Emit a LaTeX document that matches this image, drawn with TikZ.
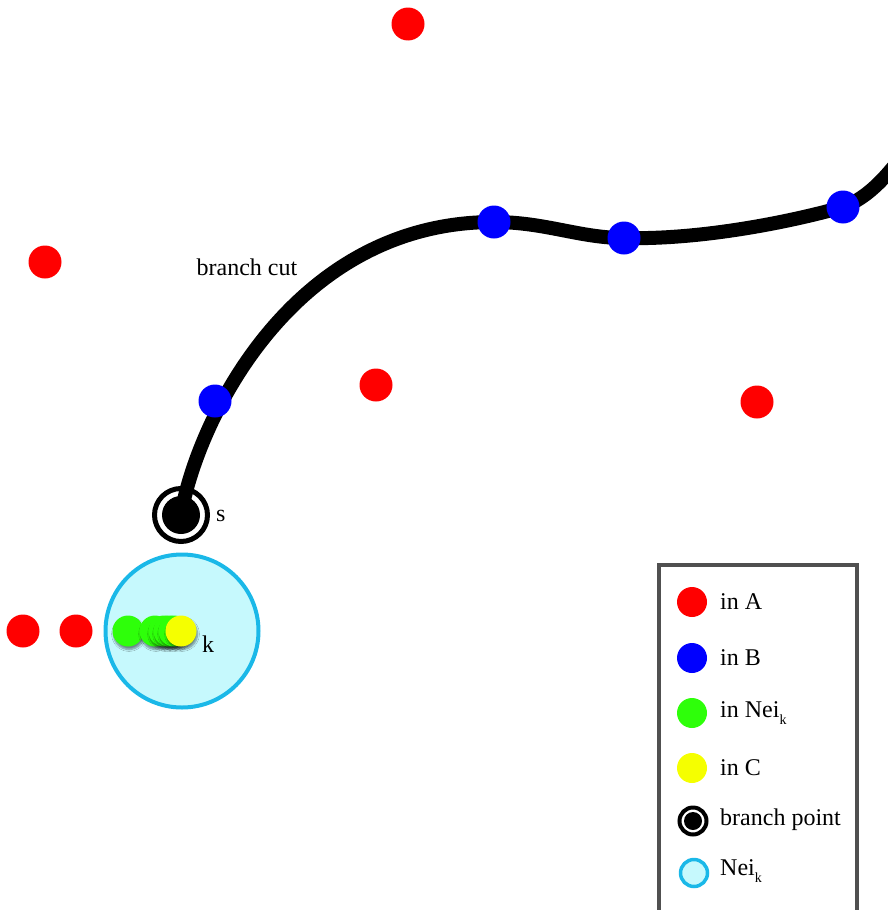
\documentclass[tikz,border=0pt]{standalone}
\usepackage{fontspec}
\setmainfont{Liberation Serif}
\usetikzlibrary{shadows.blur}
\definecolor{ptred}{HTML}{FF0000}
\definecolor{ptblue}{HTML}{0000FF}
\definecolor{ptgreen}{HTML}{2EFF0A}
\definecolor{ptyellow}{HTML}{F5FF00}
\definecolor{neiline}{HTML}{1AB8E8}
\definecolor{neifill}{HTML}{C6F9FD}
\definecolor{legframe}{HTML}{505050}
\tikzset{
  dot/.style={circle, inner sep=0pt, minimum size=33pt},
  adot/.style={dot, fill=ptred},
  bdot/.style={dot, fill=ptblue},
  gdot/.style={dot, minimum size=31pt, fill=ptgreen, blur shadow={shadow xshift=1pt, shadow yshift=-3pt, shadow blur steps=6, shadow opacity=45}},
  ydot/.style={dot, minimum size=31pt, fill=ptyellow, blur shadow={shadow xshift=1pt, shadow yshift=-3pt, shadow blur steps=6, shadow opacity=45}},
  lab/.style={font=\fontsize{24}{28}\selectfont, inner sep=0pt},
  ldot/.style={circle, inner sep=0pt, minimum size=30pt},
}
\newcommand{\subk}{\raisebox{-7pt}{\fontsize{14}{14}\selectfont k}}
\begin{document}
\begin{tikzpicture}[x=1pt,y=-1pt]
\useasboundingbox (0,0) rectangle (888,910);
% neighbourhood
\node[circle, draw=neiline, line width=4pt, fill=neifill, minimum size=153pt, inner sep=0pt] (nei) at (182,631) {};
% branch point ring
\node[circle, draw=black, line width=5pt, fill=white, minimum size=53pt, inner sep=0pt] (sring) at (181,515) {};
% branch cut
\coordinate (send) at (895,165);
\draw[line width=14pt] (sring.center) .. controls (196,425) and (290,222) .. (494,222)
  .. controls (545,222) and (580,238) .. (624,238)
  .. controls (700,240) and (790,222) .. (843,207)
  .. controls (862,200) and (878,186) .. (send);
% branch point disk
\node[circle, fill=black, minimum size=38pt, inner sep=0pt] (s) at (181,515) {};
\node[lab, anchor=west] (slab) at (216,516) {s};
\node[lab] (bc) at (247,267) {branch cut};
% A points
\node[adot] (a1) at (408,24) {};
\node[adot] (a2) at (45,262) {};
\node[adot] (a3) at (376,385) {};
\node[adot] (a4) at (757,402) {};
\node[adot] (a5) at (23,631) {};
\node[adot] (a6) at (76,631) {};
% B points
\node[bdot] (b1) at (215,401) {};
\node[bdot] (b2) at (494,222) {};
\node[bdot] (b3) at (624,238) {};
\node[bdot] (b4) at (843,207) {};
% neighbourhood points
\node[gdot] (g1) at (128,631) {};
\node[gdot] (g2) at (155,631) {};
\node[gdot] (g3) at (164,631) {};
\node[gdot] (g4) at (169,631) {};
\node[gdot] (g5) at (174,631) {};
\node[ydot] (c1) at (181,631) {};
\node[lab, anchor=west] (klab) at (202,644) {k};
% legend
\node[draw=legframe, line width=4pt, minimum width=198pt, minimum height=360pt, anchor=north west, inner sep=0pt] (leg) at (657,563) {};
\node[ldot, fill=ptred] (lA) at (692,602) {};
\node[lab, anchor=west] (tA) at (720,602) {in A};
\node[ldot, fill=ptblue] (lB) at (692,658) {};
\node[lab, anchor=west] (tB) at (720,658) {in B};
\node[ldot, fill=ptgreen] (lN) at (692,713) {};
\node[lab, anchor=west] (tN) at (720,713) {in Nei\subk};
\node[ldot, fill=ptyellow] (lC) at (692,768) {};
\node[lab, anchor=west] (tC) at (720,768) {in C};
\node[circle, draw=black, line width=4pt, fill=white, minimum size=27pt, inner sep=0pt] (lbp) at (693,821) {};
\node[circle, fill=black, minimum size=18pt, inner sep=0pt] (lbpi) at (693,821) {};
\node[lab, anchor=west] (tbp) at (720,820) {branch point};
\node[circle, draw=neiline, line width=3.5pt, fill=neifill, minimum size=27pt, inner sep=0pt] (lnei) at (694,873) {};
\node[lab, anchor=west] (tnei) at (720,871) {Nei\subk};
\end{tikzpicture}
\end{document}
